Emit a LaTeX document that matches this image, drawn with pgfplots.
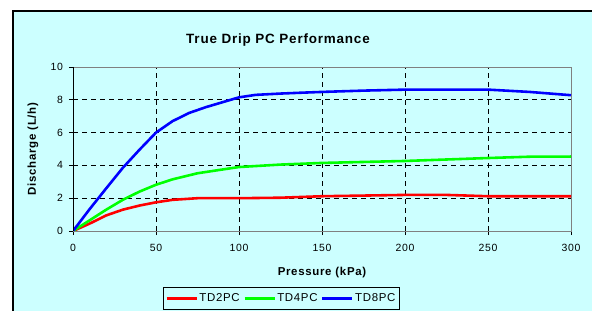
\documentclass[border=0pt]{standalone}
\usepackage{pgfplots}
\pgfplotsset{compat=1.18}
\usepackage{fontspec}
\setmainfont{Liberation Sans}[LetterSpace=6]
\definecolor{bgcyan}{HTML}{CCFFFF}
\definecolor{tdred}{HTML}{FF0000}
\definecolor{tdgreen}{HTML}{00FF00}
\definecolor{tdblue}{HTML}{0000FF}
\begin{document}
\begin{tikzpicture}
\fill[white] (0bp,0bp) rectangle (592bp,311bp);
\fill[bgcyan] (13bp,-10bp) rectangle (600bp,300bp);
\draw[black, line width=1.2bp] (13bp,-10bp) -- (13bp,300bp) -- (600bp,300bp);
\begin{axis}[
  at={(73bp,80bp)}, anchor=south west,
  scale only axis, width=498bp, height=164bp,
  xmin=0, xmax=300, ymin=0, ymax=10,
  xtick={0,50,100,150,200,250,300},
  ytick={0,2,4,6,8,10},
  /pgf/number format/assume math mode=true,
  ticklabel style={font=\fontsize{10.5}{12}\selectfont},
  xticklabel style={yshift=-6bp},
  yticklabel style={xshift=-2.5bp},
  grid=major,
  major grid style={black, dash pattern=on 5bp off 4bp, line width=0.6pt},
  axis line style={draw=gray, line width=0.7pt},
  tick align=outside, xtick pos=bottom, ytick pos=left,
  major tick length=4bp,
  tick style={black, line width=0.7pt},
  title={True Drip PC Performance},
  title style={font=\fontsize{13.5}{15}\selectfont\bfseries, at={(axis description cs:0.4116,1.128)}, anchor=center},
  xlabel={Pressure (kPa)},
  xlabel style={font=\fontsize{11.5}{13}\selectfont\bfseries, at={(axis description cs:0.5,-0.256)}, anchor=center},
  ylabel={Discharge (L/h)},
  ylabel style={font=\fontsize{11.5}{13}\selectfont\bfseries, at={(axis description cs:-0.0803,0.5)}, anchor=center},
  legend columns=3,
  legend style={at={(axis description cs:0.418,-0.341)}, anchor=north,
    draw=black, fill=bgcyan, line width=0.8pt,
    font=\fontsize{11.5}{13}\selectfont,
    inner xsep=2bp, inner ysep=4.5bp,
    nodes={inner xsep=1.5bp, inner ysep=2bp},
    /tikz/every even column/.append style={column sep=2bp}},
  legend image code/.code={\draw[#1, line width=2.6pt] (0bp,0bp) -- (30bp,0bp);},
  every axis plot/.append style={line width=2.6pt, line join=round, no markers},
]
\addplot[tdred] coordinates {(0,0)(10,0.45)(20,0.95)(30,1.3)(40,1.55)(50,1.75)(60,1.9)(75,2.0)(100,2.0)(125,2.03)(150,2.12)(200,2.2)(225,2.2)(250,2.12)(300,2.12)};
\addlegendentry{TD2PC}
\addplot[tdgreen] coordinates {(0,0)(10,0.65)(20,1.3)(30,1.9)(40,2.4)(50,2.82)(60,3.15)(75,3.52)(90,3.75)(100,3.9)(125,4.05)(150,4.15)(200,4.27)(250,4.45)(275,4.53)(300,4.54)};
\addlegendentry{TD4PC}
\addplot[tdblue] coordinates {(0,0)(10,1.33)(20,2.6)(30,3.85)(40,4.95)(50,6.0)(60,6.7)(70,7.2)(80,7.55)(90,7.85)(100,8.15)(110,8.3)(125,8.38)(137,8.43)(150,8.48)(175,8.56)(200,8.62)(250,8.62)(275,8.48)(300,8.28)};
\addlegendentry{TD8PC}
\draw[black, line width=0.8pt] (axis description cs:0,1) -- (axis description cs:0,0) -- (axis description cs:1,0);
\end{axis}
\pgfresetboundingbox
\path[use as bounding box] (0bp,0bp) rectangle (592bp,311bp);
\end{tikzpicture}
\end{document}
